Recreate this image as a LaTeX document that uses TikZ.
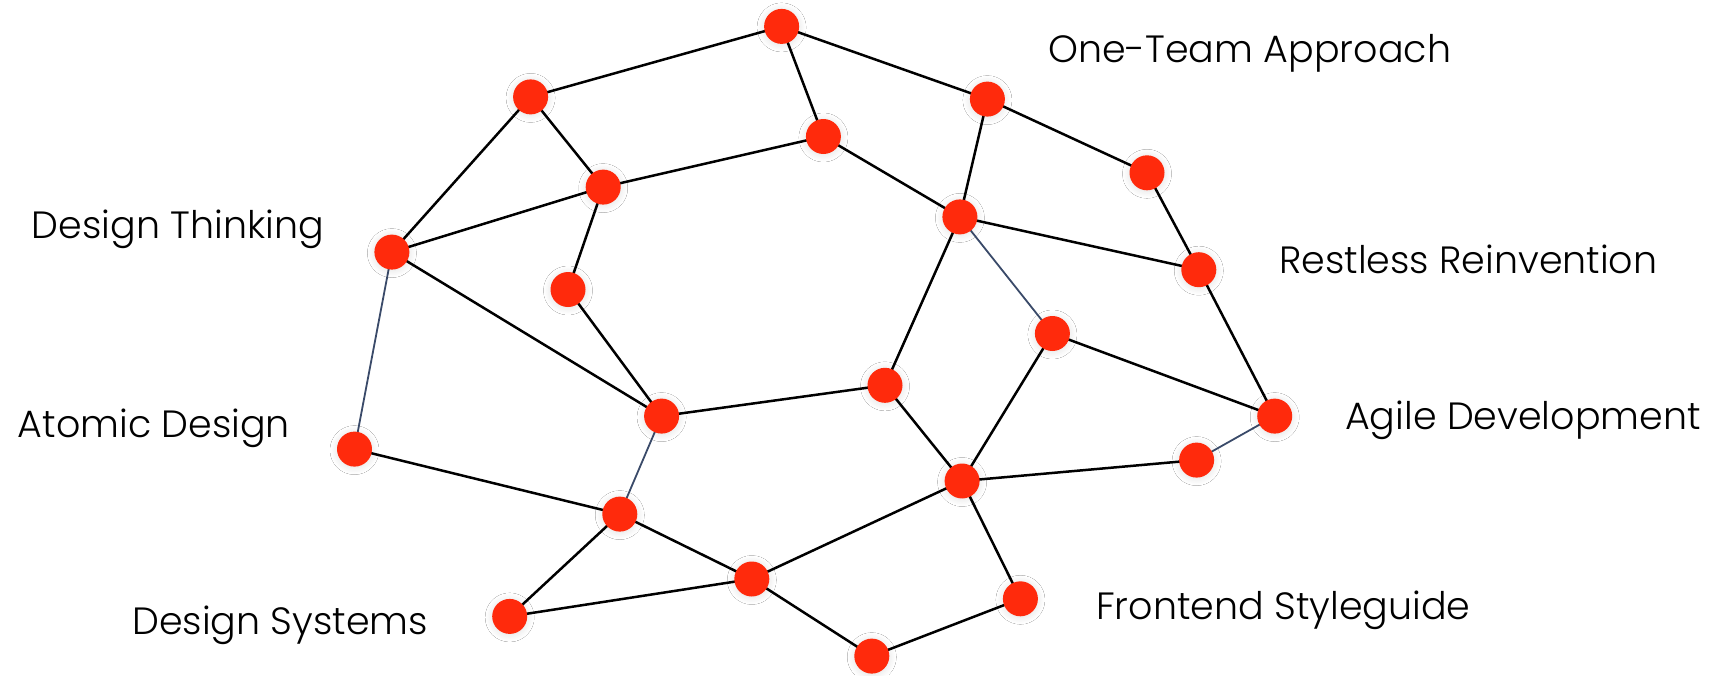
\documentclass[tikz,border=0pt]{standalone}
\usepackage{fontspec}
\setmainfont{Poppins}[UprightFont=* Light]
\usetikzlibrary{shadows.blur}
\definecolor{nodered}{RGB}{255,42,12}
\definecolor{edgeblue}{RGB}{58,74,105}
\tikzset{
  dot/.style={circle,fill=nodered,minimum size=35pt,inner sep=0pt,
    blur shadow={shadow xshift=0pt,shadow yshift=-1pt,shadow blur steps=12,shadow blur radius=7pt,shadow opacity=12}},
  link/.style={draw=black,line width=2.5pt},
  bluelink/.style={draw=edgeblue,line width=1.8pt},
  lbl/.style={anchor=base west,inner sep=0pt,font=\fontsize{38}{40}\selectfont}
}
\begin{document}
\begin{tikzpicture}[x=1pt,y=-1pt]
\useasboundingbox (0,0) rectangle (1726,675);
\fill[white] (0,0) rectangle (1726,675);
% nodes coordinates
\coordinate (pA) at (781.6,26.4);
\coordinate (pB) at (530.6,96.9);
\coordinate (pC) at (987.4,99.1);
\coordinate (pD) at (823.4,136.5);
\coordinate (pE) at (603.2,187.1);
\coordinate (pF) at (1147.0,172.8);
\coordinate (pG) at (391.9,252.1);
\coordinate (pH) at (959.9,216.9);
\coordinate (pI) at (568.0,289.5);
\coordinate (pJ) at (1198.8,269.7);
\coordinate (pK) at (1052.4,333.5);
\coordinate (pL) at (885.0,385.3);
\coordinate (pM) at (661.6,416.1);
\coordinate (pN) at (1274.7,416.1);
\coordinate (pO) at (354.5,449.1);
\coordinate (pP) at (1196.6,460.1);
\coordinate (pQ) at (962.1,481.0);
\coordinate (pR) at (619.8,514.1);
\coordinate (pS) at (751.8,579.0);
\coordinate (pT) at (1020.4,598.8);
\coordinate (pU) at (509.7,616.4);
\coordinate (pV) at (871.8,656.1);
% edges
\path[link] (pA)--(pB) (pA)--(pD) (pA)--(pC)
 (pB)--(pG) (pB)--(pE) (pD)--(pE) (pD)--(pH)
 (pC)--(pH) (pC)--(pF) (pE)--(pG) (pE)--(pI)
 (pG)--(pM) (pI)--(pM) (pH)--(pJ) (pH)--(pL)
 (pF)--(pJ) (pJ)--(pN) (pK)--(pN) (pK)--(pQ)
 (pL)--(pM) (pL)--(pQ) (pO)--(pR) (pP)--(pQ)
 (pQ)--(pS) (pQ)--(pT) (pR)--(pU) (pR)--(pS)
 (pU)--(pS) (pS)--(pV) (pV)--(pT);
\path[bluelink] (pG)--(pO) (pH)--(pK) (pM)--(pR) (pN)--(pP);
% dots
\foreach \n in {A,B,C,D,E,F,G,H,I,J,K,L,M,N,O,P,Q,R,S,T,U,V}
  \node[dot] (\n) at (p\n) {};
% labels
\node[lbl] (t1) at (1048,62) {One-Team Approach};
\node[lbl] (t2) at (31.7,238) {Design Thinking};
\node[lbl] (t3) at (1279,273) {Restless Reinvention};
\node[lbl] (t4) at (17.6,437) {Atomic Design};
\node[lbl] (t5) at (1345,429) {Agile Development};
\node[lbl] (t6) at (132,634) {Design Systems};
\node[lbl] (t7) at (1096,619) {Frontend Styleguide};
\end{tikzpicture}
\end{document}
